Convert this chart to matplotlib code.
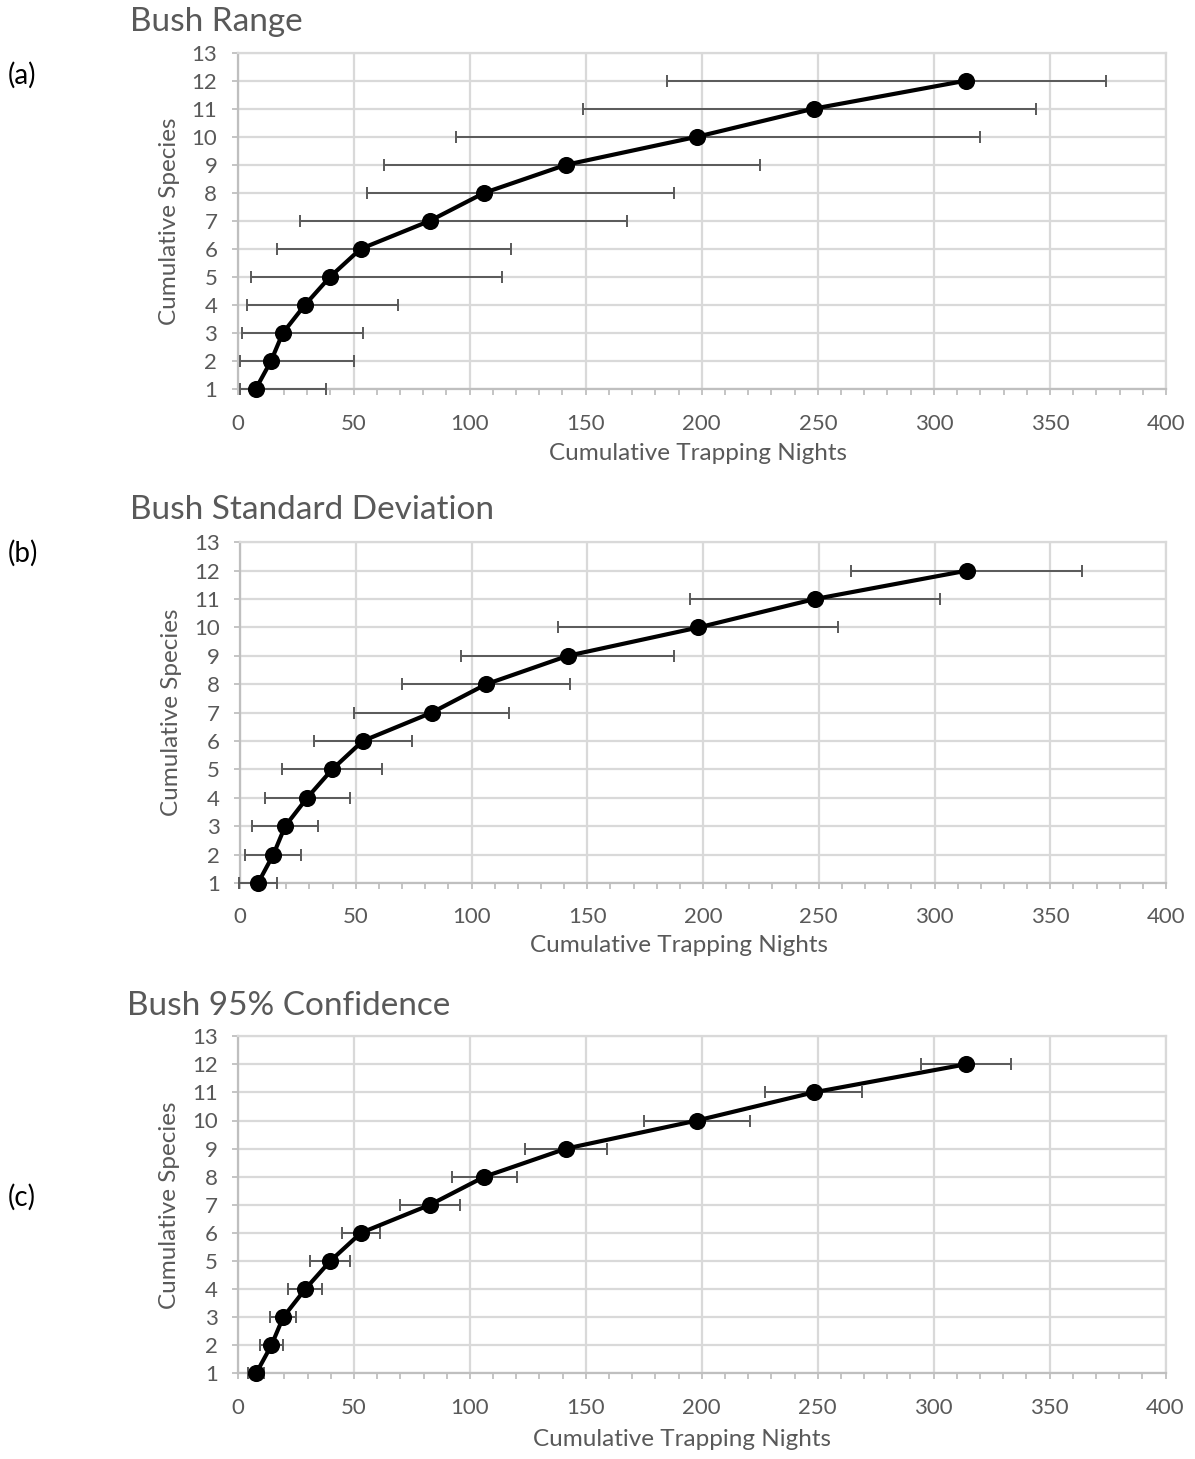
import matplotlib
matplotlib.use("Agg")
import matplotlib.pyplot as plt
from matplotlib.ticker import MultipleLocator

plt.rcParams["font.family"] = ["Lato", "DejaVu Sans"]

# Cumulative species reached after each cumulative number of trapping nights
species = [1, 2, 3, 4, 5, 6, 7, 8, 9, 10, 11, 12]
mean_nights = [7.8, 14.4, 19.5, 29.0, 39.8, 53.0, 82.8, 106.3, 141.5, 198.0, 248.2, 313.9]

# Range: fewest and most nights observed
range_min = [1, 1, 2, 4, 6, 17, 27, 56, 63, 94, 149, 185]
range_max = [38, 50, 54, 69, 114, 118, 168, 188, 225, 320, 344, 374]

# Standard deviation of nights
sd_nights = [8.2, 12.1, 14.2, 18.4, 21.7, 21.2, 33.5, 36.4, 46.0, 60.5, 54.0, 50.0]

# 95% confidence half-width of nights
ci95_nights = [3.3, 4.9, 5.5, 7.3, 8.6, 8.1, 13.0, 14.0, 17.7, 23.0, 21.0, 19.3]

titles = ["Bush Range", "Bush Standard Deviation", "Bush 95% Confidence"]
panel_tags = ["(a)", "(b)", "(c)"]

W, H = 1195, 1459
fig = plt.figure(figsize=(W / 100, H / 100), dpi=100)

GRID = "#d9d9d9"
AXISC = "#bfbfbf"
TEXTC = "#595959"
ERRC = "#595959"

# axes boxes in pixels: left, right, top, bottom
boxes = [(237.5, 1166, 52.6, 389.2),
         (240, 1166, 542.3, 883.0),
         (238, 1165.5, 1036.2, 1373.4)]
title_pos = [(130, 22), (130, 510), (127, 1006)]
tag_pos = [(8, 75), (8, 553), (8, 1197)]
xlabel_pos = [(698, 454), (679, 945), (682, 1440)]
ylabel_x = [170, 172, 170]

lo_range = [m - a for m, a in zip(mean_nights, range_min)]
hi_range = [b - m for m, b in zip(mean_nights, range_max)]
errors = [[lo_range, hi_range], sd_nights, ci95_nights]

for i in range(3):
    l, r, t, b = boxes[i]
    ax = fig.add_axes([l / W, 1 - b / H, (r - l) / W, (b - t) / H])
    ax.set_xlim(0, 400)
    ax.set_ylim(1, 13)
    ax.xaxis.set_major_locator(MultipleLocator(50))
    ax.xaxis.set_minor_locator(MultipleLocator(10))
    ax.yaxis.set_major_locator(MultipleLocator(1))
    ax.grid(True, which="major", color=GRID, linewidth=1.6, zorder=0)
    ax.set_axisbelow(True)
    for side in ["top", "right"]:
        ax.spines[side].set_color(GRID)
        ax.spines[side].set_linewidth(1.6)
    for side in ["left", "bottom"]:
        ax.spines[side].set_color(AXISC)
        ax.spines[side].set_linewidth(1.6)
    ax.tick_params(axis="x", which="both", direction="out", length=4.5,
                   width=1.3, color=AXISC, labelsize=16, labelcolor=TEXTC, pad=13)
    ax.tick_params(axis="y", which="major", direction="out", length=4.5,
                   width=1.3, color=AXISC, labelsize=16, labelcolor=TEXTC, pad=10)

    eb = ax.errorbar(mean_nights, species, xerr=errors[i], fmt="none",
                     ecolor=ERRC, elinewidth=1.4, capsize=4.2, capthick=1.4, zorder=2.7)
    for art in list(eb.lines[1]) + list(eb.lines[2]):
        art.set_clip_on(False)
        art.set_zorder(2.7)
    ax.plot(mean_nights, species, color="black", linewidth=3.0, marker="o",
            markersize=11.3, markerfacecolor="black", markeredgecolor="black",
            zorder=3, clip_on=False)

    tx, ty = title_pos[i]
    fig.text(tx / W, 1 - ty / H, titles[i], fontsize=24, color=TEXTC,
             ha="left", va="center")
    gx, gy = tag_pos[i]
    fig.text(gx / W, 1 - gy / H, panel_tags[i], fontsize=20, color="black",
             ha="left", va="center")
    xx, xy = xlabel_pos[i]
    fig.text(xx / W, 1 - xy / H, "Cumulative Trapping Nights", fontsize=17.5,
             color=TEXTC, ha="center", va="center")
    fig.text(ylabel_x[i] / W, 1 - ((t + b) / 2) / H, "Cumulative Species",
             fontsize=17.5, color=TEXTC, ha="center", va="center", rotation=90)

fig.savefig("out.png", dpi=100, facecolor="white")
